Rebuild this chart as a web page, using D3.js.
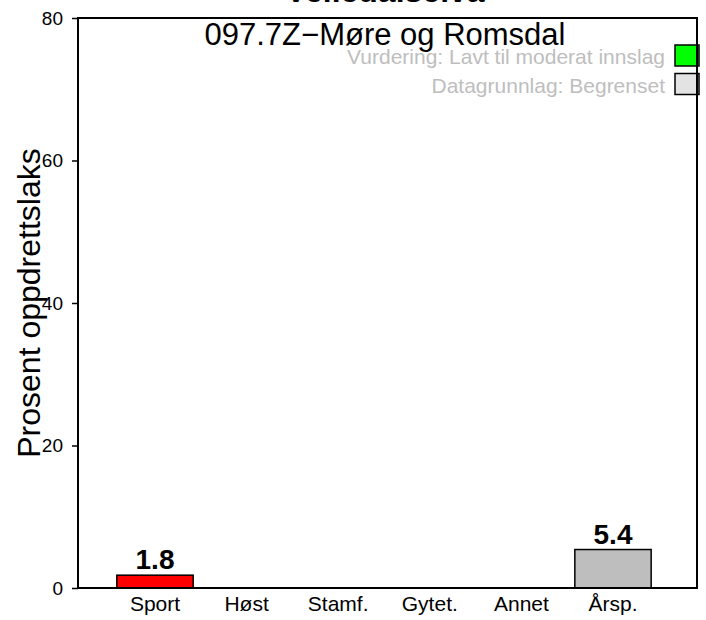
<!DOCTYPE html>
<html>
<head>
<meta charset="utf-8">
<script src="https://cdn.jsdelivr.net/npm/d3@7"></script>
<style>
  body { margin: 0; background: #fff; }
  svg { display: block; font-family: "Liberation Sans", Arial, sans-serif; }
</style>
</head>
<body>
<div id="chart"></div>
<script>
// data
var categories = ["Sport", "Høst", "Stamf.", "Gytet.", "Annet", "Årsp."];
var values = [1.8, null, null, null, null, 5.4];
var barColors = ["#ff0000", "#bebebe", "#bebebe", "#bebebe", "#bebebe", "#bebebe"];
var yTicks = [0, 20, 40, 60, 80];
var legendLabels = ["Vurdering: Lavt til moderat innslag", "Datagrunnlag: Begrenset"];
var legendFills = ["#00ff00", "#e3e3e3"];
var riverName = "Velledalselva";
var subTitle = "097.7Z\u2212Møre og Romsdal";
var yLabel = "Prosent oppdrettslaks";

var W = 706, H = 620;
var pLeft = 78, pRight = 697, pTop = 18, pBottom = 588;

var svg = d3.select("#chart").append("svg")
    .attr("width", W).attr("height", H);

var y = d3.scaleLinear().domain([0, 80]).range([pBottom, pTop]);
var x = d3.scaleBand().domain(categories)
    .range([109.2, 658.8])
    .paddingInner(0.2 / 1.2)
    .paddingOuter(0.1 / 1.2);

var bars = categories.map(function(c, i) {
  return {cat: c, v: values[i], col: barColors[i]};
}).filter(function(d) { return d.v != null; });

svg.selectAll("rect.bar")
    .data(bars)
    .enter().append("rect")
    .attr("class", "bar")
    .attr("x", function(d) { return x(d.cat); })
    .attr("y", function(d) { return y(d.v); })
    .attr("width", x.bandwidth())
    .attr("height", function(d) { return y(0) - y(d.v); })
    .attr("fill", function(d) { return d.col; })
    .attr("stroke", "#000")
    .attr("stroke-width", 1.5);

svg.selectAll("text.val")
    .data(bars)
    .enter().append("text")
    .attr("class", "val")
    .attr("x", function(d) { return x(d.cat) + x.bandwidth() / 2; })
    .attr("y", function(d) { return y(d.v) - 6; })
    .attr("text-anchor", "middle")
    .attr("font-size", 28)
    .attr("font-weight", "bold")
    .text(function(d) { return d.v.toFixed(1); });

// x labels, no ticks
svg.selectAll("text.xlab")
    .data(categories)
    .enter().append("text")
    .attr("class", "xlab")
    .attr("x", function(d) { return x(d) + x.bandwidth() / 2; })
    .attr("y", 611)
    .attr("text-anchor", "middle")
    .attr("font-size", 21)
    .text(function(d) { return d; });

// y axis
var yAxis = svg.append("g")
    .attr("transform", "translate(" + pLeft + ",0)")
    .call(d3.axisLeft(y).tickValues(yTicks).tickSize(6).tickPadding(9));
yAxis.select(".domain").remove();
yAxis.selectAll("line").attr("stroke", "#000").attr("stroke-width", 1.5);
yAxis.selectAll("text")
    .attr("font-size", 19)
    .attr("font-family", "Liberation Sans, Arial, sans-serif")
    .attr("fill", "#000");

// legend
var legend = svg.append("g");
legendLabels.forEach(function(lab, i) {
  var ly = 45 + i * 28.5;
  legend.append("rect")
      .attr("x", 675).attr("y", ly)
      .attr("width", 24).attr("height", 21)
      .attr("fill", legendFills[i])
      .attr("stroke", "#000").attr("stroke-width", 1.5);
  legend.append("text")
      .attr("x", 665).attr("y", ly + 19)
      .attr("text-anchor", "end")
      .attr("font-size", 21)
      .attr("fill", "#bebebe")
      .text(lab);
});

// frame
svg.append("rect")
    .attr("x", pLeft).attr("y", pTop)
    .attr("width", pRight - pLeft).attr("height", pBottom - pTop)
    .attr("fill", "none")
    .attr("stroke", "#000")
    .attr("stroke-width", 2);

// titles
svg.append("text")
    .attr("x", 385).attr("y", 2)
    .attr("text-anchor", "middle")
    .attr("font-size", 32)
    .attr("font-weight", "bold")
    .text(riverName);

svg.append("text")
    .attr("x", 385).attr("y", 45)
    .attr("text-anchor", "middle")
    .attr("font-size", 31)
    .text(subTitle);

svg.append("text")
    .attr("transform", "translate(40,303) rotate(-90)")
    .attr("text-anchor", "middle")
    .attr("font-size", 32)
    .text(yLabel);
</script>
</body>
</html>
